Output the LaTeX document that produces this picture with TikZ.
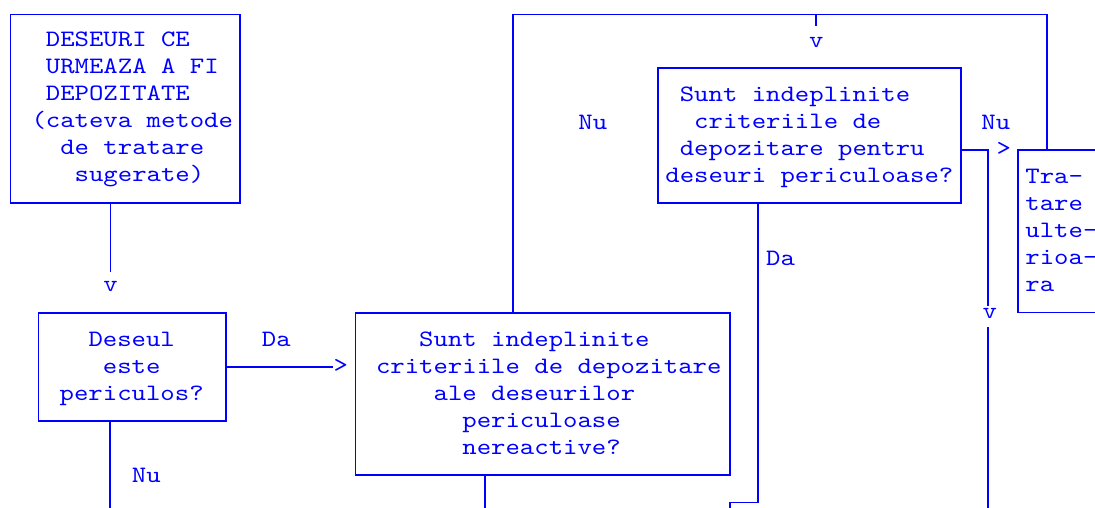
\documentclass[tikz,border=0pt]{standalone}
\usepackage{fontspec}
\setmonofont{lmmono10-regular.otf}[FakeStretch=1.167]
\usepackage{xcolor}
\usepackage{tikz}
\usetikzlibrary{calc}
\definecolor{flowblue}{RGB}{0, 0, 255}

\begin{document}
\begin{tikzpicture}[x=1pt, y=-1pt,
    box/.style={draw=flowblue, line width=1.8pt, inner sep=0pt, outer sep=0pt},
    txt/.style={font=\ttfamily\fontsize{23.5}{27}\selectfont, text=flowblue, inner sep=0pt, anchor=base west},
    lbl/.style={font=\ttfamily\fontsize{23.5}{27}\selectfont, text=flowblue, inner sep=0pt, anchor=base},
    link/.style={draw=flowblue, line width=1.8pt}]
    \useasboundingbox (0, 0) rectangle (1095, 508);
    \clip (0, 0) rectangle (1095, 508);

    % Boxes
    \node[box, minimum width=229.2pt, minimum height=188.3pt] (waste) at (125.1, 108.65) {};
    \node[box, minimum width=187.5pt, minimum height=108.2pt] (hazard) at (132.25, 366.9) {};
    \node[box, minimum width=374.7pt, minimum height=162.4pt] (nonreact) at (542.85, 394) {};
    \node[box, minimum width=303pt, minimum height=135.5pt] (hazcrit) at (809.2, 135.45) {};
    \node[box, minimum width=182.2pt, minimum height=162.3pt] (further) at (1108.9, 231.35) {};

    % Box texts (indent in characters)
    \foreach \col/\words [count=\i] in {1/DESEURI CE, 1/URMEAZA A FI, 1/DEPOZITATE, 0/(cateva metode, 2/de tratare, 3/sugerate)}
        \node[txt] (waste\i) at ({31.3+14.4*\col}, {46.8+27*(\i-1)}) {\words};
    \foreach \col/\words [count=\i] in {2/Deseul, 3/este, 0/periculos?}
        \node[txt] (hazard\i) at ({59.5+14.4*\col}, {346.7+27*(\i-1)}) {\words};
    \foreach \col/\words [count=\i] in {3/Sunt indeplinite, 0/criteriile de depozitare, 4/ale deseurilor, 6/periculoase, 6/nereactive?}
        \node[txt] (nonreact\i) at ({375.8+14.4*\col}, {346.7+27*(\i-1)}) {\words};
    \foreach \col/\words [count=\i] in {1/Sunt indeplinite, 2/criteriile de, 1/depozitare pentru, 0/deseuri periculoase?}
        \node[txt] (hazcrit\i) at ({665.2+14.4*\col}, {101.7+27*(\i-1)}) {\words};
    \foreach \col/\words [count=\i] in {0/Tra-, 0/tare, 0/ulte-, 0/rioa-, 0/ra}
        \node[txt] (further\i) at ({1025.2+14.4*\col}, {183.3+27*(\i-1)}) {\words};

    % Labels and arrow heads
    \node[lbl] (down1) at (110.5, 291.7) {v};
    \node[lbl] (yes1) at (276.3, 346.7) {Da};
    \node[lbl, anchor=center] (into1) at (340.8, 366) {>};
    \node[lbl] (no1) at (146.3, 482.7) {Nu};
    \node[lbl] (down2) at (816.3, 47.3) {v};
    \node[lbl] (no2) at (592.8, 129.3) {Nu};
    \node[lbl] (no3) at (995.8, 129.3) {Nu};
    \node[lbl, anchor=center] (into2) at (1003.8, 149) {>};
    \node[lbl] (yes2) at (780.5, 265) {Da};
    \node[lbl] (down3) at (989.7, 318.3) {v};

    % Connectors
    \coordinate (j1) at (110.5, 271.7);
    \coordinate (e1) at (110.3, 510);
    \coordinate (e2) at (485, 510);
    \coordinate (t1) at (513.3, 14.5);
    \coordinate (t2) at (1046.7, 14.5);
    \coordinate (t3) at (816, 26);
    \coordinate (r1) at (988.3, 150);
    \coordinate (r2) at (988.3, 306);
    \coordinate (r3) at (988.3, 327);
    \coordinate (e3) at (988.3, 510);
    \coordinate (d1) at (758.3, 502.5);
    \coordinate (d2) at (729.8, 502.5);
    \coordinate (e4) at (729.8, 510);

    \draw[link] (waste.south -| j1) -- (j1);
    \draw[link] (hazard.east) -- (hazard.east -| into1.west);
    \draw[link] (hazard.south -| e1) -- (e1);
    \draw[link] (nonreact.south -| e2) -- (e2);
    \draw[link] (nonreact.north -| t1) -- (t1) -- (t2) -- (further.north -| t2);
    \draw[link] (t3 |- t1) -- (t3);
    \draw[link] (hazcrit.east |- r1) -- (r1) -- (r2);
    \draw[link] (r3) -- (e3);
    \draw[link] (hazcrit.south -| d1) -- (d1) -- (d2) -- (e4);
\end{tikzpicture}
\end{document}
